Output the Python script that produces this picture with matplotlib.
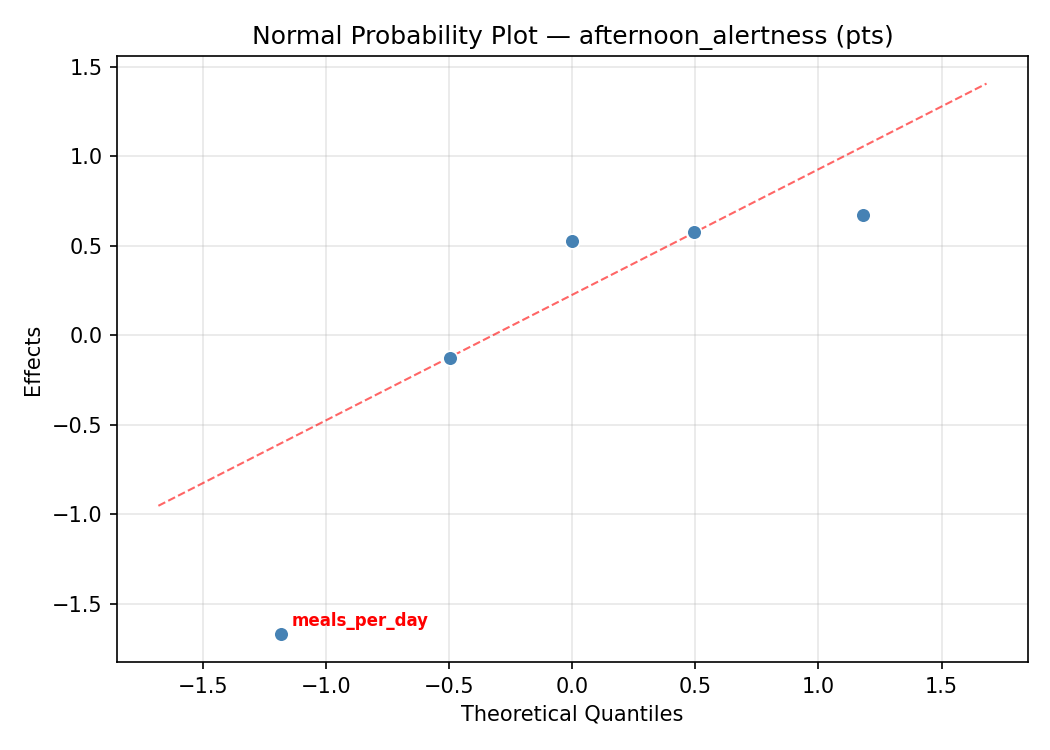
import numpy as np
import matplotlib.pyplot as plt

# Data
quantiles = np.array([-1.183, -0.496, 0.0, 0.496, 1.180])
effects = np.array([-1.673, -0.128, 0.524, 0.574, 0.669])
labels = ["meals_per_day", "", "", "", ""]
flagged = [True, False, False, False, False]

line_x = np.array([-1.683, 1.683])
line_y = np.array([-0.954, 1.405])

fig, ax = plt.subplots(figsize=(7, 5), dpi=150)

ax.plot(line_x, line_y, linestyle="--", color="red", alpha=0.6, linewidth=1.0)
ax.scatter(quantiles, effects, s=50, color="steelblue", edgecolor="white",
           linewidth=0.8, zorder=3)

for q, e, lab, f in zip(quantiles, effects, labels, flagged):
    if f:
        ax.annotate(lab, (q, e), xytext=(5, 2), textcoords="offset points",
                    color="red", fontsize=8, fontweight="bold", va="bottom")

ax.set_title("Normal Probability Plot \u2014 afternoon_alertness (pts)")
ax.set_xlabel("Theoretical Quantiles")
ax.set_ylabel("Effects")
ax.grid(True, alpha=0.3)

fig.subplots_adjust(left=0.1114, right=0.979, bottom=0.1173, top=0.9253)
fig.savefig("out.png")
